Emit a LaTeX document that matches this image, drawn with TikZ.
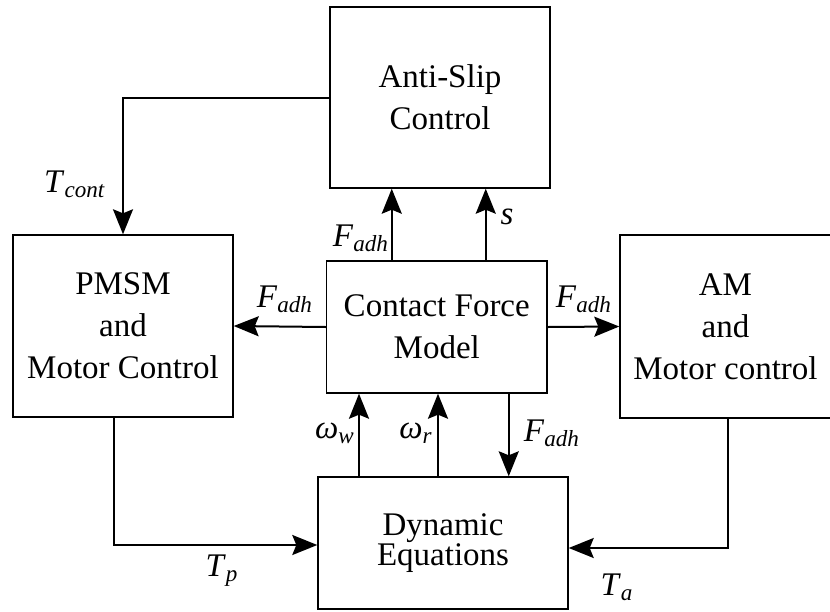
\documentclass[tikz,border=0pt]{standalone}
\usepackage{fontspec}
\setmainfont{Liberation Serif}
\usetikzlibrary{arrows.meta}
\newcommand{\sg}[2]{\textit{#1}\textsubscript{\textit{#2}}}

\begin{document}
\begin{tikzpicture}[x=0.5pt,y=-0.5pt,
  blk/.style={draw,line width=0.7pt,inner sep=0pt,align=center,font=\fontsize{16.5}{21}\selectfont},
  arr/.style={line width=1pt,-{Stealth[length=12.5pt,width=10pt,inset=2pt]}},
  sig/.style={inner sep=0pt,font=\fontsize{16.5}{20}\selectfont}]
\useasboundingbox (0,0) rectangle (830,611);
% the five blocks
\node[blk,minimum width=110pt,minimum height=90.5pt] (slip) at (440,97.5) {Anti-Slip\\Control};
\node[blk,minimum width=110pt,minimum height=91pt] (pmsm) at (123,326) {PMSM\\and\\Motor Control};
\node[blk,minimum width=110.25pt,minimum height=66pt] (cfm) at (436.75,327) {Contact Force\\Model};
\node[blk,minimum width=105.5pt,minimum height=91.5pt] (am) at (725.5,326.5) {AM\\and\\Motor control};
\node[blk,minimum width=125pt,minimum height=66pt,font=\fontsize{16.5}{15}\selectfont] (dyn) at (443,543) {Dynamic\\Equations};
% control torque back to the PMSM drive
\draw[arr] (slip.west) -| (pmsm.north);
% contact force model outputs
\draw[arr] ([xshift=-22.5pt]cfm.north) -- ([xshift=-22.5pt]cfm.north |- slip.south);
\draw[arr] ([xshift=24.5pt]cfm.north) -- ([xshift=24.5pt]cfm.north |- slip.south);
\draw[arr] (cfm.west) -- (pmsm.east);
\draw[arr] (cfm.east) -- (am.west);
\draw[arr] ([xshift=36pt]cfm.south) -- ([xshift=36pt]cfm.south |- dyn.north);
% wheel and rotor speeds
\draw[arr] (359,0 |- dyn.north) -- (359,0 |- cfm.south);
\draw[arr] (438,0 |- dyn.north) -- (438,0 |- cfm.south);
% motor torques into the dynamics
\draw[arr] ([xshift=-4.5pt]pmsm.south) |- ([yshift=-1pt]dyn.west);
\draw[arr] ([xshift=1.25pt]am.south) |- ([yshift=-2.5pt]dyn.east);
% signal names
\node[sig] (lcont) at (75,184) {\sg{T}{cont}};
\node[sig] (lfa1) at (361,238) {\sg{F}{adh}};
\node[sig] (ls) at (507,217) {\textit{s}};
\node[sig] (lfa2) at (285,299) {\sg{F}{adh}};
\node[sig] (lfa3) at (584,299) {\sg{F}{adh}};
\node[sig] (lww) at (335,433) {\sg{ω}{w}};
\node[sig] (lwr) at (416,433) {\sg{ω}{r}};
\node[sig] (lfa4) at (552,433) {\sg{F}{adh}};
\node[sig] (ltp) at (222,571) {\sg{T}{p}};
\node[sig] (lta) at (617,587) {\sg{T}{a}};
\end{tikzpicture}
\end{document}
